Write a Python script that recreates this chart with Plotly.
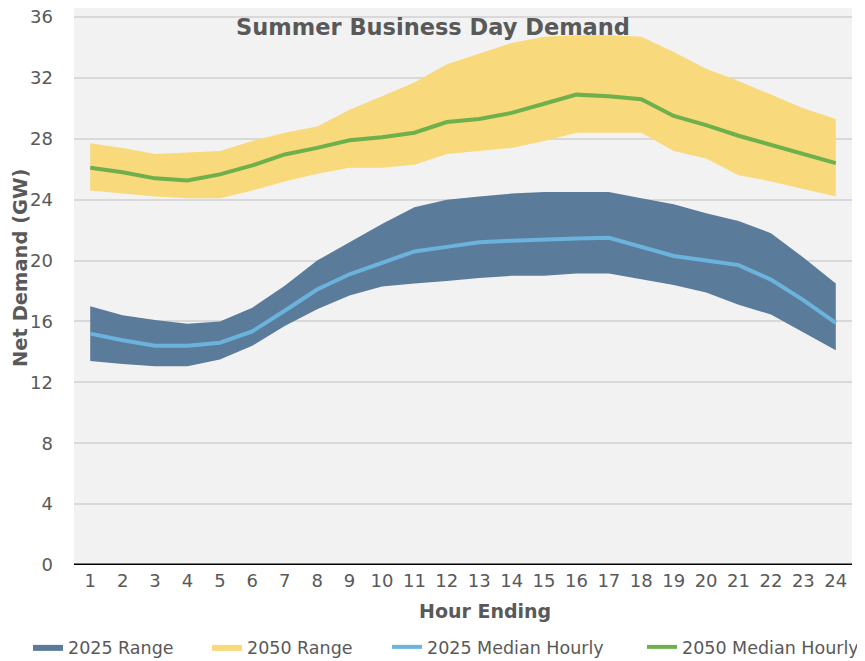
import plotly.graph_objects as go

hours = list(range(1, 25))
hour_labels = [str(h) for h in hours]

range2025_low = [13.4, 13.2, 13.05, 13.05, 13.5, 14.4, 15.7, 16.8, 17.7, 18.3, 18.5, 18.65,
                 18.85, 19.0, 19.0, 19.15, 19.15, 18.75, 18.4, 17.9, 17.1, 16.45, 15.25, 14.1]
range2025_high = [17.0, 16.4, 16.1, 15.85, 16.0, 16.9, 18.35, 20.0, 21.2, 22.4, 23.5, 24.0,
                  24.2, 24.4, 24.5, 24.5, 24.5, 24.1, 23.7, 23.1, 22.6, 21.8, 20.2, 18.5]
range2050_low = [24.6, 24.4, 24.2, 24.1, 24.1, 24.6, 25.2, 25.7, 26.1, 26.1, 26.3, 27.0,
                 27.2, 27.4, 27.85, 28.4, 28.4, 28.4, 27.2, 26.7, 25.6, 25.2, 24.7, 24.2]
range2050_high = [27.7, 27.4, 27.0, 27.1, 27.2, 27.85, 28.4, 28.8, 29.9, 30.8, 31.7, 32.9,
                  33.6, 34.3, 34.7, 34.8, 34.8, 34.7, 33.7, 32.6, 31.8, 30.9, 30.0, 29.3]
median2025 = [15.2, 14.76, 14.4, 14.4, 14.6, 15.35, 16.7, 18.1, 19.1, 19.85, 20.6, 20.9,
              21.2, 21.3, 21.4, 21.45, 21.5, 20.9, 20.3, 20.0, 19.7, 18.75, 17.4, 15.9]
median2050 = [26.1, 25.8, 25.4, 25.26, 25.66, 26.25, 26.97, 27.4, 27.9, 28.1, 28.4, 29.1,
              29.3, 29.7, 30.3, 30.9, 30.8, 30.6, 29.5, 28.9, 28.2, 27.6, 27.0, 26.4]

y_ticks = [0, 4, 8, 12, 16, 20, 24, 28, 32, 36]

BLUE_FILL = "#5B7B9B"
YELLOW_FILL = "#F8D97C"
LIGHT_BLUE = "#6BB3DC"
GREEN = "#6DB04C"
TXT = "#595959"
FONT = "DejaVu Sans, Verdana, sans-serif"

# the page body adds an 8px offset, so the figure is 8px smaller than the window
OFF = 8
W, H = 865 - OFF, 661 - OFF
L, R, T, B = 74 - OFF, 13, 0, H - (565 - OFF)
PW = W - L - R
PH = H - T - B
Y_TOP = 36 * PH / (565 - 17)


def px_x(px):
    return (px - OFF - L) / PW


def px_y(py):
    return (H - B - (py - OFF)) / PH


fig = go.Figure()

fig.add_trace(go.Scatter(x=hours, y=range2025_low, mode="lines", line=dict(width=0, color=BLUE_FILL),
                         showlegend=False, hoverinfo="skip"))
fig.add_trace(go.Scatter(x=hours, y=range2025_high, mode="lines", line=dict(width=0, color=BLUE_FILL),
                         fill="tonexty", fillcolor=BLUE_FILL, name="2025 Range", legend="legend"))
fig.add_trace(go.Scatter(x=hours, y=range2050_low, mode="lines", line=dict(width=0, color=YELLOW_FILL),
                         showlegend=False, hoverinfo="skip"))
fig.add_trace(go.Scatter(x=hours, y=range2050_high, mode="lines", line=dict(width=0, color=YELLOW_FILL),
                         fill="tonexty", fillcolor=YELLOW_FILL, name="2050 Range", legend="legend2"))
fig.add_trace(go.Scatter(x=hours, y=median2025, mode="lines", line=dict(width=4, color=LIGHT_BLUE),
                         name="2025 Median Hourly", legend="legend3"))
fig.add_trace(go.Scatter(x=hours, y=median2050, mode="lines", line=dict(width=4, color=GREEN),
                         name="2050 Median Hourly", legend="legend4"))


def leg(text_x):
    return dict(orientation="h", xref="container", yref="container",
                x=(text_x - OFF - 40) / W, y=1 - (647 - OFF) / H,
                xanchor="left", yanchor="middle", bgcolor="rgba(0,0,0,0)",
                font=dict(family=FONT, size=17.5, color=TXT))


fig.update_layout(
    width=W, height=H,
    margin=dict(l=L, r=R, t=T, b=B, autoexpand=False),
    paper_bgcolor="white",
    plot_bgcolor="#F2F2F2",
    title=dict(text="<b>Summer Business Day Demand</b>", xref="container", yref="container",
               x=(433 - OFF) / W, xanchor="center", y=1 - (27 - OFF) / H, yanchor="middle",
               font=dict(family=FONT, size=22.5, color=TXT)),
    xaxis=dict(range=[0.5, 24.5], tickmode="array", tickvals=hours, ticktext=hour_labels,
               showgrid=False, zeroline=False, showline=False, ticks="", automargin=False,
               ticklabelstandoff=3, ticklabeloverflow="allow",
               tickfont=dict(family=FONT, size=18, color=TXT)),
    yaxis=dict(range=[0, Y_TOP], tickmode="array", tickvals=y_ticks,
               showgrid=True, gridcolor="#D9D9D9", gridwidth=2, zeroline=False,
               showline=False, ticks="", automargin=False, ticklabelstandoff=20,
               ticklabeloverflow="allow",
               tickfont=dict(family=FONT, size=18, color=TXT)),
    legend=leg(68), legend2=leg(247), legend3=leg(427), legend4=leg(682),
    shapes=[dict(type="line", xref="paper", yref="y", x0=0, x1=1, y0=0, y1=0,
                 line=dict(color="black", width=3))],
    annotations=[
        dict(text="<b>Hour Ending</b>", xref="paper", yref="paper", x=px_x(484.5), y=px_y(611),
             xanchor="center", yanchor="middle", showarrow=False,
             font=dict(family=FONT, size=19, color=TXT)),
        dict(text="<b>Net Demand (GW)</b>", xref="paper", yref="paper", x=px_x(20), y=px_y(268),
             xanchor="center", yanchor="middle", showarrow=False, textangle=-90,
             font=dict(family=FONT, size=19.5, color=TXT)),
    ],
)

fig.write_html("out.html")
